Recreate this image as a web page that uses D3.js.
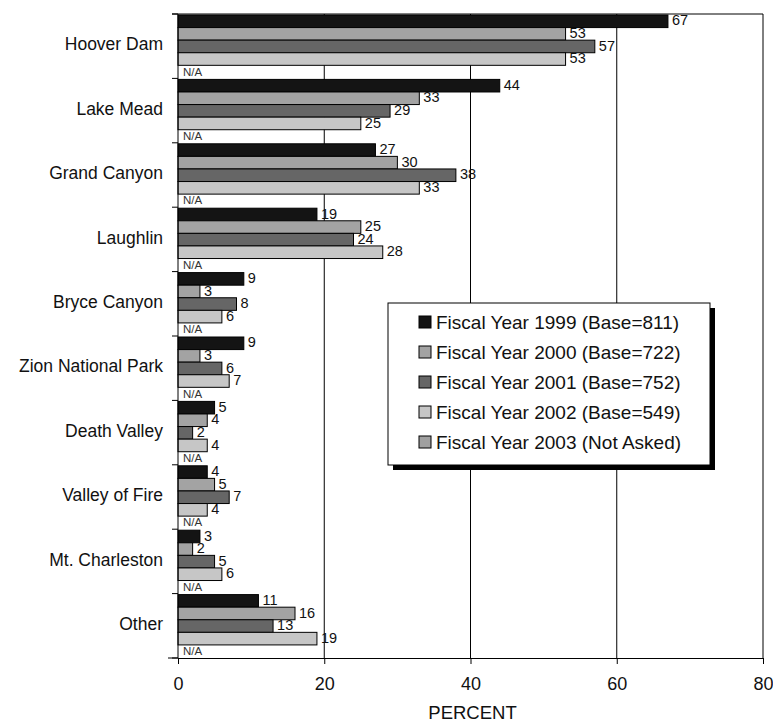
<!DOCTYPE html>
<html><head><meta charset="utf-8">
<script src="https://cdn.jsdelivr.net/npm/d3@7"></script>
<style>body{margin:0;background:#fff}svg{display:block}text{font-family:"Liberation Sans",Arial,sans-serif;fill:#111}</style>
</head><body><svg id="c" width="773" height="726"></svg>
<script>
const categories = ["Hoover Dam","Lake Mead","Grand Canyon","Laughlin","Bryce Canyon","Zion National Park","Death Valley","Valley of Fire","Mt. Charleston","Other"];
const seriesNames = ["Fiscal Year 1999 (Base=811)","Fiscal Year 2000 (Base=722)","Fiscal Year 2001 (Base=752)","Fiscal Year 2002 (Base=549)","Fiscal Year 2003 (Not Asked)"];
const fy1999 = [67,44,27,19,9,9,5,4,3,11];
const fy2000 = [53,33,30,25,3,3,4,5,2,16];
const fy2001 = [57,29,38,24,8,6,2,7,5,13];
const fy2002 = [53,25,33,28,6,7,4,4,6,19];
const fy2003 = [null,null,null,null,null,null,null,null,null,null];
const xTicks = [0,20,40,60,80];
const colors = ["#141414","#a3a3a3","#666666","#c6c6c6","#a0a0a0"];
const series = [fy1999,fy2000,fy2001,fy2002,fy2003];

const svg = d3.select("#c");
const L=178,R=763,T=14,B=658;
const x = d3.scaleLinear().domain([0,80]).range([L,R]);
const y = d3.scaleBand().domain(categories).range([T,B]).padding(0);
const ys = d3.scaleBand().domain(d3.range(5)).range([1,y.bandwidth()-0.5]).padding(0);

// gridlines
svg.append("g").selectAll("line").data(xTicks.slice(1)).join("line")
  .attr("x1",d=>x(d)).attr("x2",d=>x(d)).attr("y1",T).attr("y2",B)
  .attr("stroke","#000").attr("stroke-width",1);
svg.append("line").attr("x1",L-6).attr("x2",R).attr("y1",T).attr("y2",T).attr("stroke","#000");

// bars
const g = svg.append("g");
categories.forEach((c,i)=>{
  series.forEach((s,j)=>{
    const v=s[i];
    const yy=y(c)+ys(j);
    if(v==null){
      g.append("text").attr("x",x(0)+5).attr("y",yy+ys.bandwidth()/2).attr("dy","0.35em")
        .attr("font-size",11.5).style("fill","#333").text("N/A");
      return;
    }
    g.append("rect").attr("x",x(0)).attr("y",yy).attr("width",x(v)-x(0)).attr("height",ys.bandwidth())
      .attr("fill",colors[j]).attr("stroke","#000").attr("stroke-width",1);
    g.append("text").attr("x",x(v)+4).attr("y",yy+ys.bandwidth()/2-1).attr("dy","0.35em")
      .attr("font-size",14.5).style("fill","#111").text(v);
  });
});

// axes
const ax = svg.append("g").attr("transform",`translate(0,${B})`)
  .call(d3.axisBottom(x).tickValues(xTicks).tickSize(6).tickPadding(13));
ax.select(".domain").attr("stroke","#000");
ax.selectAll("text").attr("font-size",18).style("font-family","Liberation Sans, Arial, sans-serif").attr("fill","#111");
svg.append("line").attr("x1",L-10).attr("x2",L).attr("y1",B).attr("y2",B).attr("stroke","#000");

const ay = svg.append("g").attr("transform",`translate(${L},0)`);
ay.append("line").attr("x1",0).attr("x2",0).attr("y1",T).attr("y2",B).attr("stroke","#000");
ay.selectAll("line.t").data(categories.concat(["_end"])).join("line").attr("class","t")
  .attr("x1",-6).attr("x2",0).attr("y1",d=>d==="_end"?B:y(d)).attr("y2",d=>d==="_end"?B:y(d)).attr("stroke","#000");
ay.selectAll("text").data(categories).join("text")
  .attr("x",-15).attr("y",d=>y(d)+y.bandwidth()/2-2).attr("dy","0.35em").attr("text-anchor","end")
  .attr("font-size",17.5).text(d=>d);

svg.append("text").attr("x",x(40)+2).attr("y",713).attr("dy","0.35em").attr("text-anchor","middle")
  .attr("font-size",18.5).text("PERCENT");

// legend
const lg = svg.append("g");
const lx=388, ly=303, lw=322, lh=162;
lg.append("rect").attr("x",lx+5).attr("y",ly+5).attr("width",lw).attr("height",lh).attr("fill","#000");
lg.append("rect").attr("x",lx).attr("y",ly).attr("width",lw).attr("height",lh).attr("fill","#fff").attr("stroke","#000");
seriesNames.forEach((n,j)=>{
  const cy = ly+19+j*30;
  lg.append("rect").attr("x",lx+31).attr("y",cy-6).attr("width",12).attr("height",12)
    .attr("fill",colors[j]).attr("stroke","#000");
  lg.append("text").attr("x",lx+48).attr("y",cy).attr("dy","0.35em").attr("font-size",19).text(n);
});
</script></body></html>
